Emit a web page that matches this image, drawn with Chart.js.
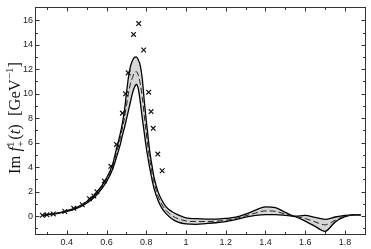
<!DOCTYPE html>
<html><head><meta charset="utf-8">
<script src="https://cdn.jsdelivr.net/npm/chart.js@4.4.0/dist/chart.umd.min.js"></script>
<style>html,body{margin:0;padding:0;background:#fff;overflow:hidden}#wrap{width:371px;height:249px}</style>
</head><body><div id="wrap"><canvas id="c" width="371" height="249"></canvas></div>
<script>
const xGrid = [0.28,0.30,0.35,0.40,0.45,0.50,0.55,0.60,0.63,0.65,0.67,0.68,0.69,0.70,0.71,0.72,0.73,0.74,0.75,0.76,0.77,0.78,0.79,0.80,0.81,0.82,0.83,0.84,0.86,0.88,0.90,0.93,0.96,1.00,1.05,1.10,1.15,1.20,1.25,1.30,1.35,1.40,1.45,1.50,1.55,1.60,1.65,1.70,1.75,1.80,1.85,1.88];
const upperBand = [0.06,0.11,0.24,0.43,0.70,1.16,1.92,3.10,4.20,5.50,6.80,7.60,8.60,10.0,11.3,12.2,12.7,12.95,13.0,12.75,12.3,11.2,9.4,7.8,6.3,5.0,4.0,3.1,1.95,1.25,0.75,0.35,0.10,-0.15,-0.22,-0.25,-0.25,-0.20,-0.10,0.15,0.48,0.75,0.68,0.30,-0.02,0.05,-0.12,-0.27,-0.08,0.05,0.10,0.10];
const centralLine = [0.05,0.10,0.22,0.40,0.66,1.10,1.82,2.95,4.00,5.20,6.40,7.20,8.00,9.00,10.0,10.8,11.3,11.7,11.8,11.5,10.8,9.7,8.2,6.8,5.5,4.4,3.4,2.7,1.6,0.9,0.45,0.02,-0.22,-0.40,-0.45,-0.45,-0.42,-0.35,-0.20,0.02,0.25,0.42,0.38,0.15,-0.04,-0.20,-0.48,-0.72,-0.35,0.00,0.10,0.10];
const lowerBand = [0.04,0.09,0.20,0.37,0.62,1.04,1.72,2.80,3.80,4.80,5.90,6.60,7.20,7.90,8.60,9.30,10.0,10.5,10.75,10.4,9.3,8.0,6.8,5.6,4.6,3.7,2.9,2.2,1.25,0.6,0.2,-0.25,-0.50,-0.65,-0.68,-0.62,-0.55,-0.45,-0.30,-0.10,0.05,0.12,0.12,0.05,-0.06,-0.42,-0.85,-1.25,-0.50,-0.05,0.10,0.10];
const dataX = [0.277,0.300,0.332,0.390,0.435,0.478,0.514,0.536,0.552,0.589,0.622,0.650,0.680,0.696,0.709,0.736,0.762,0.787,0.812,0.824,0.835,0.858,0.880];
const dataY = [0.06,0.10,0.17,0.37,0.63,0.92,1.42,1.64,1.98,2.87,4.06,5.85,8.41,9.99,11.70,14.84,15.73,13.57,10.12,8.54,7.17,5.06,3.70];
const xTickValues = [0.4,0.6,0.8,1.0,1.2,1.4,1.6,1.8];
const xTickLabels = ['0.4','0.6','0.8','1','1.2','1.4','1.6','1.8'];
const yTickValues = [0,2,4,6,8,10,12,14,16];
const yTickLabels = ['0','2','4','6','8','10','12','14','16'];

const pts = arr => xGrid.map((x,i)=>({x:x,y:arr[i]}));

const framePlugin = {
  id:'frame',
  afterDraw(chart){
    const ctx = chart.ctx, a = chart.chartArea, xs = chart.scales.x, ys = chart.scales.y;
    ctx.save();
    ctx.strokeStyle = '#333'; ctx.lineWidth = 1;
    const L = Math.round(a.left)-0.5, R = Math.round(a.right)-0.5, T = Math.round(a.top)-0.5, B = Math.round(a.bottom)+0.5;
    ctx.strokeRect(L, T, R-L, B-T);
    ctx.beginPath();
    for (let k=3;k<=19;k++){
      const v = k/10; const px = Math.round(xs.getPixelForValue(v))+0.5;
      if (px<L+1||px>R-1) continue;
      const len = (k%2===0)?4:2.5;
      ctx.moveTo(px,B); ctx.lineTo(px,B-len);
      ctx.moveTo(px,T); ctx.lineTo(px,T+len);
    }
    for (let v=-1; v<=16; v++){
      const py = Math.round(ys.getPixelForValue(v))+0.5;
      const len = (v%2===0)?4:2.5;
      ctx.moveTo(L,py); ctx.lineTo(L+len,py);
      ctx.moveTo(R,py); ctx.lineTo(R-len,py);
    }
    ctx.stroke();
    // y-axis title
    const cx = 20, cy = 118;
    const big = 16.5, small = 11;
    const serif = '"Liberation Serif","DejaVu Serif",serif';
    const pieces = [
      {t:'Im ', f:big+'px '+serif},
      {t:'f', f:'italic '+big+'px '+serif},
      {t:'1', f:small+'px '+serif, dy:-6, stack:'+'},
      {t:'(', f:big+'px '+serif},
      {t:'t', f:'italic '+big+'px '+serif},
      {t:')', f:big+'px '+serif},
      {t:'  [GeV', f:big+'px '+serif},
      {t:'\u22121', f:small+'px '+serif, dy:-7},
      {t:']', f:big+'px '+serif}
    ];
    let total = 0;
    pieces.forEach(p=>{ctx.font=p.f; p.w=ctx.measureText(p.t).width; if(p.stack){p.w=Math.max(p.w,ctx.measureText(p.stack).width)+1;} total+=p.w;});
    ctx.translate(cx, cy); ctx.rotate(-Math.PI/2);
    ctx.fillStyle = '#111'; ctx.textBaseline='alphabetic'; ctx.textAlign='left';
    let x0 = -total/2;
    pieces.forEach(p=>{
      ctx.font = p.f;
      ctx.fillText(p.t, x0, p.dy||0);
      if (p.stack) ctx.fillText(p.stack, x0, 3.5);
      x0 += p.w;
    });
    ctx.restore();
  }
};

new Chart(document.getElementById('c'), {
  type:'line',
  data:{datasets:[
    {type:'scatter', data:dataX.map((x,i)=>({x:x,y:dataY[i]})), pointStyle:'crossRot', pointRadius:3.3, borderColor:'#111', borderWidth:1.2, backgroundColor:'#111', showLine:false, order:0},
    {data:pts(centralLine), borderColor:'#222', borderWidth:1, borderDash:[6,3], pointRadius:0, fill:false, cubicInterpolationMode:'monotone', order:1},
    {data:pts(upperBand), borderColor:'#000', borderWidth:1.3, pointRadius:0, fill:{target:3}, backgroundColor:'#d6d6d6', cubicInterpolationMode:'monotone', order:2},
    {data:pts(lowerBand), borderColor:'#000', borderWidth:1.3, pointRadius:0, fill:false, cubicInterpolationMode:'monotone', order:3}
  ]},
  options:{
    responsive:false, animation:false, devicePixelRatio:1,
    layout:{padding:{top:1,right:1,left:0,bottom:0}},
    plugins:{legend:{display:false}, tooltip:{enabled:false}, filler:{drawTime:'beforeDatasetsDraw'}},
    scales:{
      x:{type:'linear', min:0.245, max:1.905,
        grid:{display:false, drawTicks:false}, border:{display:false},
        afterBuildTicks:s=>{s.ticks = xTickValues.map(v=>({value:v}));},
        afterFit:s=>{s.height=15;},
        ticks:{padding:3, color:'#222', font:{family:'"Liberation Sans",Arial,sans-serif', size:9}, maxRotation:0, autoSkip:false, callback:(v,i)=>xTickLabels[i]}
      },
      y:{type:'linear', min:-1.47, max:16.97,
        grid:{display:false, drawTicks:false}, border:{display:false},
        afterBuildTicks:s=>{s.ticks = yTickValues.map(v=>({value:v}));},
        afterFit:s=>{s.width=36;},
        ticks:{padding:3, color:'#222', font:{family:'"Liberation Sans",Arial,sans-serif', size:9}, autoSkip:false, callback:(v,i)=>yTickLabels[i]}
      }
    }
  },
  plugins:[framePlugin]
});
</script></body></html>
